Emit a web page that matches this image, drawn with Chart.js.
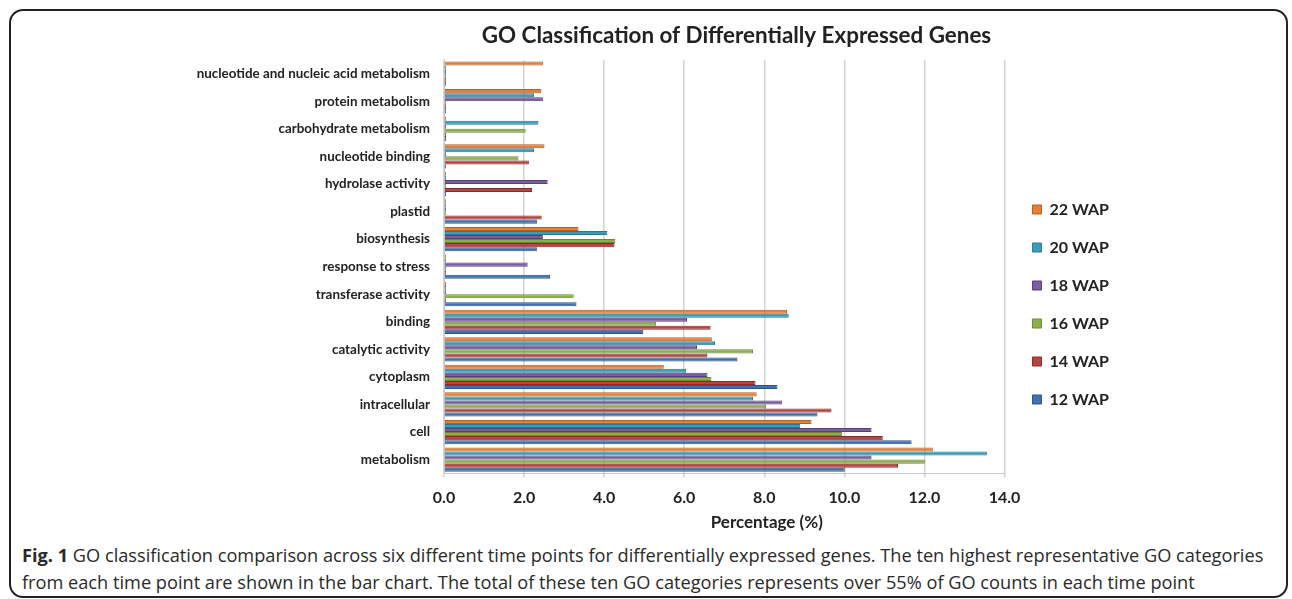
<!DOCTYPE html>
<html>
<head>
<meta charset="utf-8">
<script src="https://cdn.jsdelivr.net/npm/chart.js@4"></script>
<style>
  html, body { margin: 0; padding: 0; background: #fff; width: 1292px; height: 599px; overflow: hidden; }
  #frame { position: absolute; left: 9px; top: 9px; width: 1279px; height: 589px; border: 2px solid #222; border-radius: 14px; box-sizing: border-box; }
  #wrap { position: absolute; left: 180px; top: 0; width: 1112px; height: 599px; }
  #caption { position: absolute; left: 22px; top: 542px; width: 1262px; font-family: "Open Sans", sans-serif; font-size: 18.2px; line-height: 27px; color: #2a2a2a; white-space: nowrap; }
  #caption b { font-weight: bold; }
</style>
</head>
<body>
<div id="frame"></div>
<div id="caption"><b>Fig. 1</b> GO classification comparison across six different time points for differentially expressed genes. The ten highest representative GO categories<br>from each time point are shown in the bar chart. The total of these ten GO categories represents over 55% of GO counts in each time point</div>
<div id="wrap"><canvas id="goChart"></canvas></div>
<script>
// GO categories, top to bottom
const categories = [
    'nucleotide and nucleic acid metabolism', 'protein metabolism', 'carbohydrate metabolism',
    'nucleotide binding', 'hydrolase activity', 'plastid', 'biosynthesis', 'response to stress',
    'transferase activity', 'binding', 'catalytic activity', 'cytoplasm', 'intracellular', 'cell', 'metabolism'
];

// percentage of GO counts per time point
const wap22 = [2.47, 2.43, 0.05, 2.51, 0.05, 0.05, 3.36, 0.05, 0.05, 8.57, 6.69, 5.49, 7.81, 9.18, 12.21];
const wap20 = [0.05, 2.25, 2.36, 2.25, 0.05, 0.05, 4.08, 0.05, 0.05, 8.61, 6.77, 6.05, 7.72, 8.90, 13.56];
const wap18 = [0.05, 2.47, 0.05, 0.05, 2.59, 0.05, 2.47, 2.09, 0.05, 6.07, 6.32, 6.58, 8.44, 10.68, 10.68];
const wap16 = [0.05, 0.05, 2.04, 1.86, 0.05, 0.05, 4.28, 0.05, 3.24, 5.30, 7.72, 6.68, 8.05, 9.94, 12.01];
const wap14 = [0.05, 0.05, 0.05, 2.12, 2.20, 2.44, 4.26, 0.05, 0.05, 6.66, 6.58, 7.78, 9.68, 10.96, 11.34];
const wap12 = [0.05, 0.05, 0.05, 0.05, 0.05, 2.32, 2.32, 2.65, 3.31, 4.98, 7.33, 8.33, 9.33, 11.68, 10.01];

const seriesNames = ['22 WAP', '20 WAP', '18 WAP', '16 WAP', '14 WAP', '12 WAP'];
const xTicks = [0, 2, 4, 6, 8, 10, 12, 14];

const fills = ['#E67F37', '#3B9CB7', '#7A5E9E', '#8CAE4E', '#B64542', '#4371AF'];
const edges = ['#B45F26', '#2A7891', '#573F78', '#6A8935', '#882C2A', '#2C5388'];

const allSeries = [wap22, wap20, wap18, wap16, wap14, wap12];

const datasets = allSeries.map((vals, i) => ({
    label: seriesNames[i],
    data: vals,
    backgroundColor: fills[i],
    borderColor: edges[i],
    borderWidth: 1,
    categoryPercentage: 0.88,
    barPercentage: 1.0
}));

// shift title and legend a little, like the original layout
const nudge = {
    id: 'nudge',
    afterLayout(chart) {
        chart.titleBlock.left += 90;
        chart.titleBlock.right += 90;
        chart.legend.left += 6;
        chart.legend.right += 6;
    }
};

const ctx = document.getElementById('goChart').getContext('2d');

new Chart(ctx, {
    type: 'bar',
    data: { labels: categories, datasets: datasets },
    plugins: [nudge],
    options: {
        indexAxis: 'y',
        responsive: true,
        maintainAspectRatio: false,
        animation: false,
        layout: { padding: { left: 0, right: 179, top: 10, bottom: 0 } },
        plugins: {
            tooltip: { enabled: false },
            title: {
                display: true,
                text: 'GO Classification of Differentially Expressed Genes',
                color: '#222',
                font: { family: 'Lato', size: 22.4, weight: 'bold', lineHeight: 1.2 },
                padding: { top: 12, bottom: 11 }
            },
            legend: {
                position: 'right',
                labels: {
                    boxWidth: 9,
                    boxHeight: 9,
                    padding: 22,
                    color: '#222',
                    font: { family: 'Lato', size: 16, weight: 'bold', lineHeight: 1.2 }
                }
            }
        },
        scales: {
            x: {
                min: 0,
                max: 14,
                afterBuildTicks: axis => { axis.ticks = xTicks.map(v => ({ value: v })); },
                ticks: {
                    callback: v => Number(v).toFixed(1),
                    color: '#222',
                    padding: 10.7,
                    font: { family: 'Lato', size: 16, weight: 'bold' }
                },
                grid: { color: '#d4d4d4', lineWidth: 1.5, drawTicks: true, tickLength: 4 },
                border: { color: '#c8c8c8' },
                title: {
                    display: true,
                    text: '\u2002\u2002\u2002\u2002\u2002\u2002\u2002\u2002\u2002\u2002Percentage (%)',
                    color: '#222',
                    font: { family: 'Lato', size: 17, weight: 'bold', lineHeight: 1.0 },
                    padding: { top: -4, bottom: 68 }
                }
            },
            y: {
                afterFit: axis => { axis.width = 264; },
                ticks: {
                    color: '#222',
                    padding: 6,
                    autoSkip: false,
                    font: { family: 'Lato', size: 13.4, weight: 'bold' }
                },
                grid: { display: false },
                border: { color: '#c8c8c8' }
            }
        }
    }
});
</script>
</body>
</html>
